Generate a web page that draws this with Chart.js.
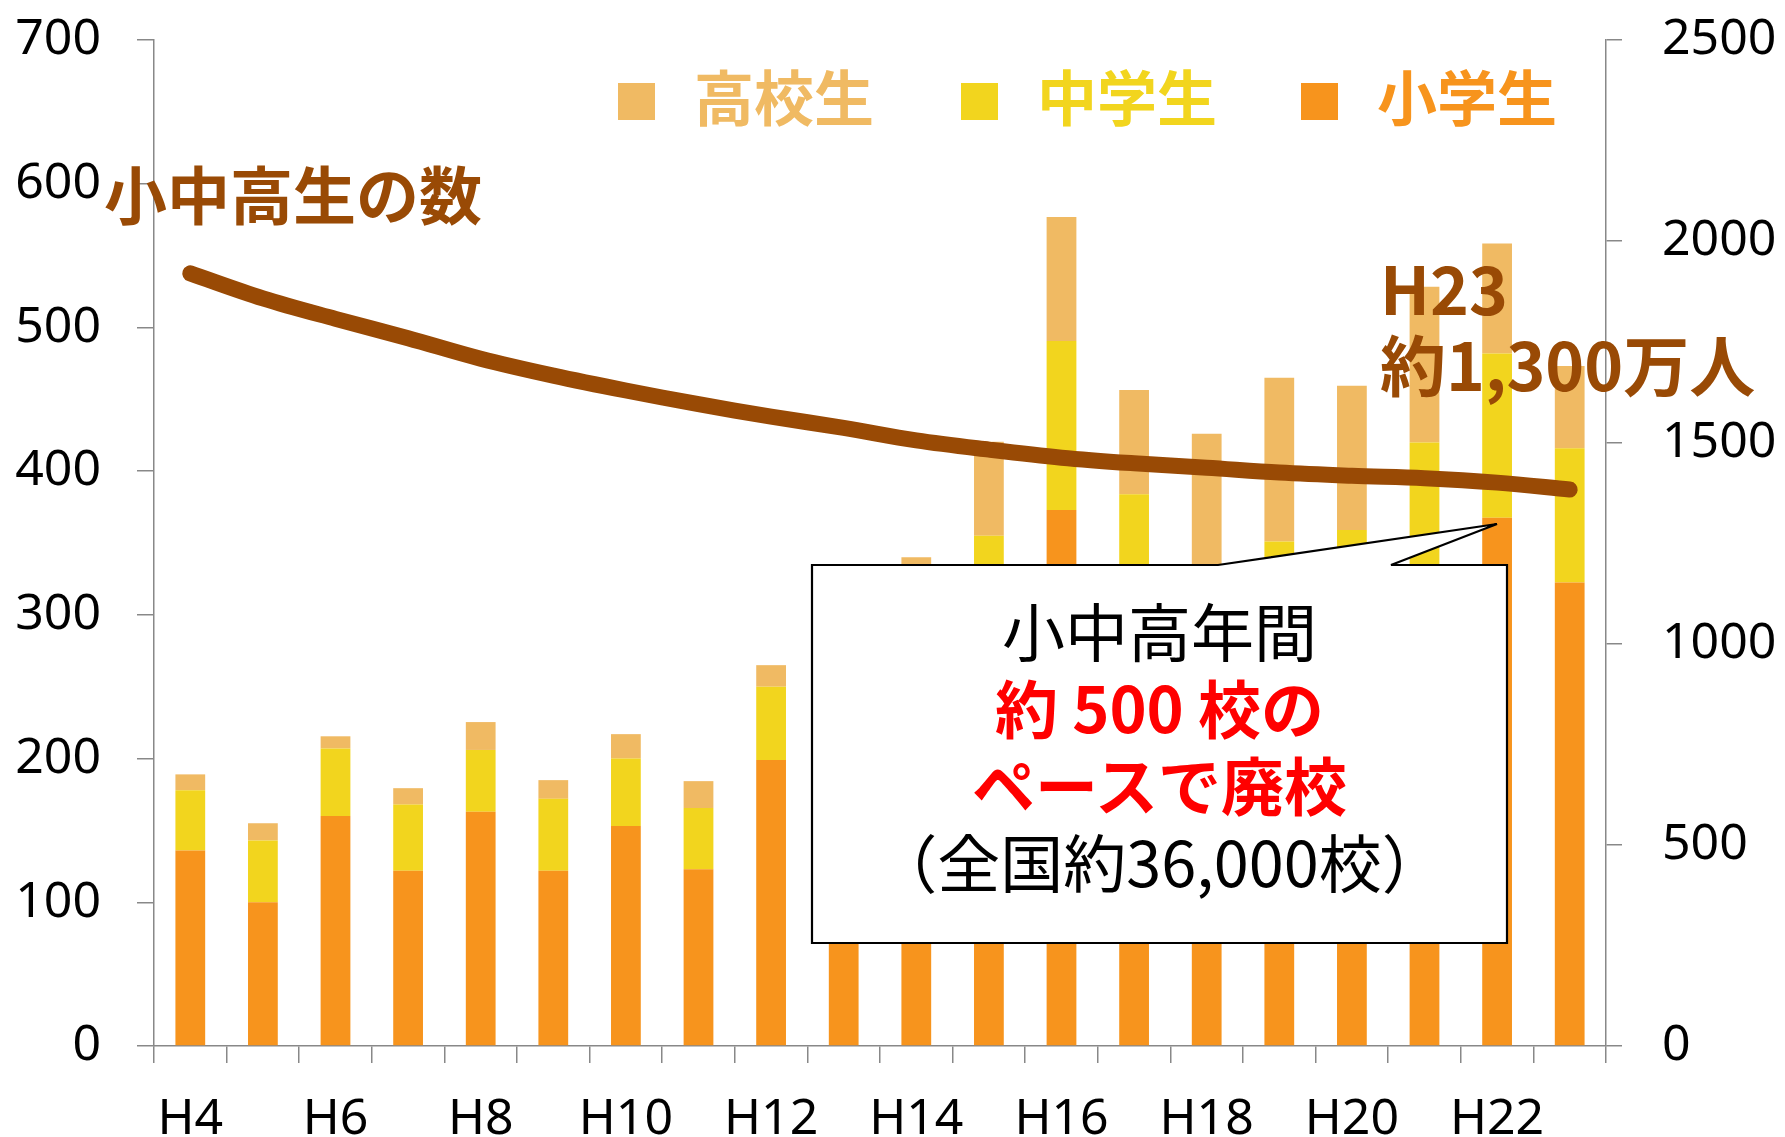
<!DOCTYPE html>
<html><head><meta charset="utf-8">
<script src="https://cdn.jsdelivr.net/npm/chart.js@4.4.1/dist/chart.umd.min.js"></script>
<style>
html,body{margin:0;padding:0;background:#fff;}
#wrap{position:relative;width:1785px;height:1137px;overflow:hidden;}
#c{position:absolute;left:0;top:0;}
.t{position:absolute;white-space:nowrap;font-family:'Noto Sans CJK JP','Noto Sans',sans-serif;line-height:1;}
svg{position:absolute;left:0;top:0;}
.leg{position:absolute;height:37px;}
.leg .sq{position:absolute;left:0;top:0;width:37px;height:37px;}
.leg .lt{position:absolute;left:76px;top:-18px;font-family:'Noto Sans CJK JP',sans-serif;font-weight:bold;font-size:60px;line-height:1;white-space:nowrap;}
</style></head><body>
<div id="wrap">
<canvas id="c" width="1785" height="1137"></canvas>
<div id="legend"></div>
<div class="t" id="lineLabel" style="left:104px;top:160px;font-size:63px;font-weight:bold;color:#994A05;">小中高生の数</div>
<div class="t" style="left:1380px;top:248px;font-size:66px;font-weight:bold;color:#994A05;line-height:76px;">H23<br>約1,300万人</div>
<svg width="1785" height="1137"><polygon points="812,565 1218,565 1497,524 1391,565 1507,565 1507,943 812,943" fill="#fff" stroke="#000" stroke-width="2.2" stroke-linejoin="miter"/></svg>
<div class="t" style="left:812px;width:695px;top:590px;text-align:center;font-size:63px;line-height:77px;color:#000;">
<div>小中高年間</div>
<div style="color:#FF0000;font-weight:bold;">約 500 校の</div>
<div style="color:#FF0000;font-weight:bold;">ペースで廃校</div>
<div>（全国約36,000校）</div>
</div>
</div>
<script>
// ---- data ----
const categories = ['H4','H5','H6','H7','H8','H9','H10','H11','H12','H13','H14','H15','H16','H17','H18','H19','H20','H21','H22','H23'];
const tickLabels = ['H4','H6','H8','H10','H12','H14','H16','H18','H20','H22'];
const elementary = [136,100,160,122,163,122,153,123,199,205,230,285,373,290,250,275,280,300,367.5,322.5];
const juniorHigh = [42,43,47,46,43,50,47,42.6,51,48,62,70,117.5,94,75,76,79,120,114.3,93.5];
const highSchool = [11,12,8.5,11.4,19.4,13,17,18.7,15,24,48,65.5,86.3,72.5,101,114,100.5,108.3,76.6,57.2];
const students = [1920,1858,1807,1759,1708,1666,1629,1595,1564,1536,1505,1482,1462,1448,1437,1425,1417,1411,1400,1383];
const leftTicks = [0,100,200,300,400,500,600,700];
const rightTicks = [0,500,1000,1500,2000,2500];

const ORANGE = '#F7941D', YELLOW = '#F2D51E', TAN = '#F0BA63', BROWN = '#994A05', AXIS = '#888888';

const barDatasets = [
  {label:'小学生', data: elementary, color: ORANGE},
  {label:'中学生', data: juniorHigh, color: YELLOW},
  {label:'高校生', data: highSchool, color: TAN}
];

// legend (reverse order, as in the original)
const legendX = [618, 961, 1301];
const legEl = document.getElementById('legend');
barDatasets.slice().reverse().forEach((d, i) => {
  const it = document.createElement('div');
  it.className = 'leg';
  it.style.left = legendX[i] + 'px';
  it.style.top = '83px';
  it.innerHTML = '<div class="sq" style="background:' + d.color + '"></div><div class="lt" style="color:' + d.color + '">' + d.label + '</div>';
  legEl.appendChild(it);
});

const tickFont = {family: "'Noto Sans', sans-serif", size: 50};
const plain = v => String(v);

new Chart(document.getElementById('c'), {
  data: {
    labels: categories,
    datasets: [
      {type:'line', label:'小中高生の数', data: students, yAxisID:'y2', borderColor: BROWN, borderWidth: 16,
       pointRadius: 0, tension: 0.35, borderCapStyle:'round', borderJoinStyle:'round', order: 0, fill:false},
      ...barDatasets.map(d => ({type:'bar', label:d.label, data:d.data, backgroundColor:d.color, yAxisID:'y',
        barPercentage:0.41, categoryPercentage:1, order:1, borderWidth:0}))
    ]
  },
  options: {
    responsive: false, animation: false, devicePixelRatio: 1,
    layout: {padding: {top: 40, left: 0, right: 0, bottom: 0}},
    plugins: {legend: {display: false}, tooltip: {enabled: false}},
    scales: {
      x: {
        stacked: true, offset: true,
        grid: {drawOnChartArea: false, tickLength: 17, color: AXIS, lineWidth: 1.5, offset: true},
        border: {color: AXIS, width: 1.5},
        ticks: {autoSkip: false, maxRotation: 0, padding: 27, color: '#000', font: tickFont,
          callback: (v, i) => tickLabels.includes(categories[i]) ? categories[i] : ''},
        afterFit: s => { s.height = 91; s.paddingLeft = 0; s.paddingRight = 0; }
      },
      y: {
        position: 'left', stacked: true, min: 0, max: 700,
        afterBuildTicks: s => { s.ticks = leftTicks.map(v => ({value: v})); },
        grid: {drawOnChartArea: false, tickLength: 17, color: AXIS, lineWidth: 1.5},
        border: {color: AXIS, width: 1.5},
        ticks: {padding: 36, color: '#000', font: tickFont, callback: plain},
        afterFit: s => { s.width = 154; s.paddingTop = 0; s.paddingBottom = 0; }
      },
      y2: {
        position: 'right', min: 0, max: 2500,
        afterBuildTicks: s => { s.ticks = rightTicks.map(v => ({value: v})); },
        grid: {drawOnChartArea: false, tickLength: 16, color: AXIS, lineWidth: 1.5},
        border: {color: AXIS, width: 1.5},
        ticks: {padding: 40, color: '#000', font: tickFont, callback: plain},
        afterFit: s => { s.width = 179; s.paddingTop = 0; s.paddingBottom = 0; }
      }
    }
  }
});
</script>
</body></html>
